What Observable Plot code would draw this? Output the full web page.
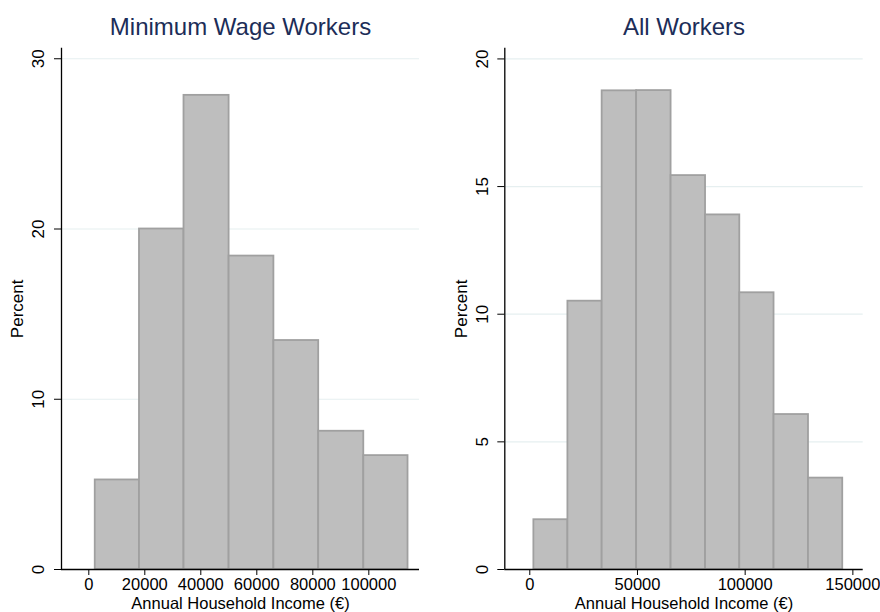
<!DOCTYPE html>
<html>
<head>
<meta charset="utf-8">
<script src="https://cdn.jsdelivr.net/npm/d3@7"></script>
<script src="https://cdn.jsdelivr.net/npm/@observablehq/plot@0.6"></script>
<style>
  html, body { margin: 0; padding: 0; background: #fff; }
  #wrap { position: relative; width: 880px; height: 612px; overflow: hidden; font-family: "Liberation Sans", Arial, sans-serif; }
  .panel { position: absolute; top: 0; width: 440px; height: 612px; }
</style>
</head>
<body>
<div id="wrap"></div>
<script>
// ---- data ----
const titles = ["Minimum Wage Workers", "All Workers"];
const xLabel = "Annual Household Income (€)";
const yLabel = "Percent";

// bin edges (income, €) and bar heights (percent)
const mwEdges = [2300, 18100, 34000, 50100, 66100, 82100, 98200, 114000];
const mwPercent = [5.26, 20.0, 27.85, 18.41, 13.45, 8.12, 6.69];

const allEdges = [1900, 17700, 33600, 49600, 65600, 81600, 97500, 113400, 129400, 145300];
const allPercent = [1.95, 10.51, 18.75, 18.76, 15.43, 13.89, 10.84, 6.07, 3.58];

// axis ticks
const mwXTicks = [0, 20000, 40000, 60000, 80000, 100000];
const mwYTicks = [0, 10, 20, 30];
const allXTicks = [0, 50000, 100000, 150000];
const allYTicks = [0, 5, 10, 15, 20];

// ---- drawing ----
function bins(edges, vals) {
  return vals.map((v, i) => ({x1: edges[i], x2: edges[i + 1], y: v}));
}

function panel(cfg) {
  const fontFamily = '"Liberation Sans", Arial, sans-serif';
  return Plot.plot({
    width: 440,
    height: 612,
    marginLeft: cfg.marginLeft,
    marginRight: cfg.marginRight,
    marginTop: 47.7,
    marginBottom: 43,
    style: {fontFamily, fontSize: "17px", color: "#000", background: "#fff"},
    x: {domain: cfg.xDomain},
    y: {domain: cfg.yDomain},
    marks: [
      Plot.gridY(cfg.yTicks, {stroke: "#e6eff0", strokeOpacity: 1, strokeWidth: 1.2}),
      Plot.rectY(bins(cfg.edges, cfg.vals), {
        x1: "x1", x2: "x2", y: "y",
        fill: "#bebebe", stroke: "#a0a0a0", strokeWidth: 1.8
      }),
      Plot.ruleX([cfg.xDomain[0]], {stroke: "#000", strokeWidth: 1.3}),
      Plot.ruleY([0], {stroke: "#000", strokeWidth: 1.3}),
      Plot.axisY({ticks: cfg.yTicks, tickSize: 7, tickFormat: () => "", label: null, stroke: "#000"}),
      Plot.text(cfg.yTicks, {
        y: d => d, text: d => String(d), frameAnchor: "left", dx: cfg.yTickDx,
        rotate: -90, textAnchor: "middle", lineAnchor: "middle", fontSize: 17, fill: "#000"
      }),
      Plot.axisX({ticks: cfg.xTicks, tickSize: 6, tickPadding: 3, tickFormat: d => String(d), label: null, fontSize: 16.5, stroke: "#000"}),
      Plot.text([yLabel], {
        frameAnchor: "left", dx: cfg.yLabelDx, rotate: -90, text: d => d,
        textAnchor: "middle", lineAnchor: "middle", fontSize: 17, fill: "#000"
      }),
      Plot.text([xLabel], {
        frameAnchor: "bottom", dy: 34, text: d => d,
        textAnchor: "middle", lineAnchor: "middle", fontSize: 16.5, fill: "#000"
      }),
      Plot.text([cfg.title], {
        frameAnchor: "top", dy: -20.7, text: d => d,
        textAnchor: "middle", lineAnchor: "middle", fontSize: 24, fill: "#1c2d58"
      })
    ]
  });
}

const wrap = document.getElementById("wrap");
const cfgs = [
  {title: titles[0], edges: mwEdges, vals: mwPercent, xTicks: mwXTicks, yTicks: mwYTicks,
   xDomain: [-9750, 118100], yDomain: [0, 30.62], marginLeft: 61, marginRight: 21,
   yTickDx: -23, yLabelDx: -44, left: 0},
  {title: titles[1], edges: allEdges, vals: allPercent, xTicks: allXTicks, yTicks: allYTicks,
   xDomain: [-11600, 154800], yDomain: [0, 20.42], marginLeft: 64.3, marginRight: 17.3,
   yTickDx: -22.3, yLabelDx: -43.3, left: 440}
];
for (const c of cfgs) {
  const div = document.createElement("div");
  div.className = "panel";
  div.style.left = c.left + "px";
  div.appendChild(panel(c));
  wrap.appendChild(div);
}
</script>
</body>
</html>
